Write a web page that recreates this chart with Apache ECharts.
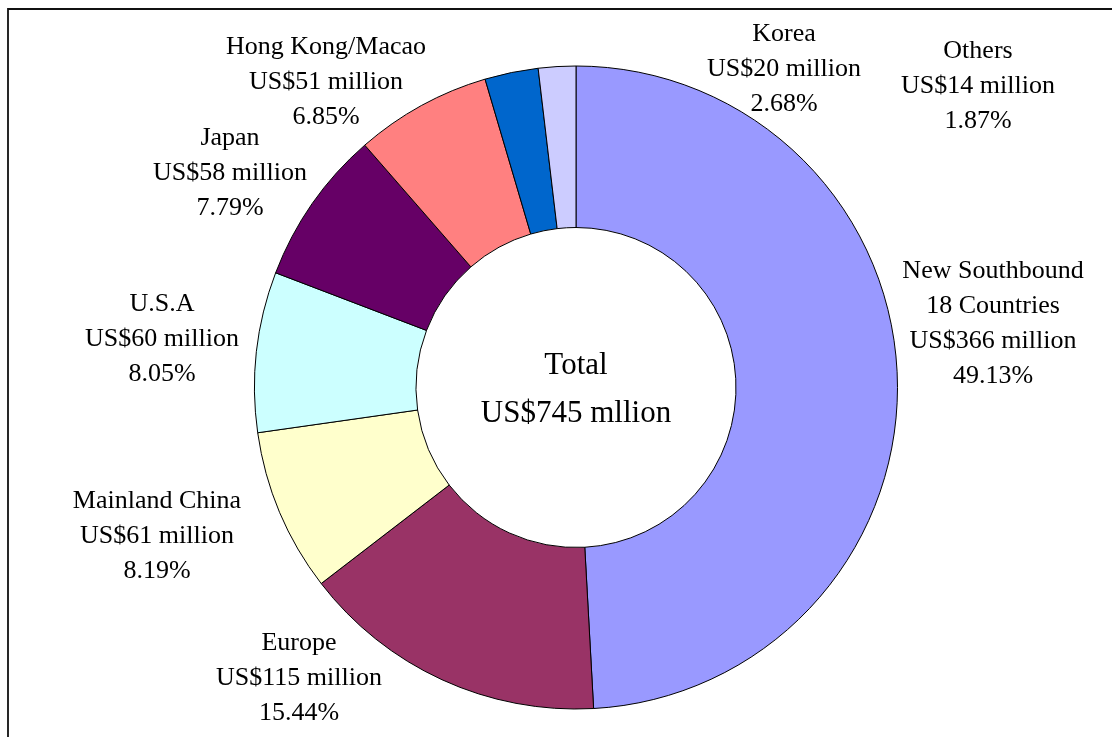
<!DOCTYPE html>
<html>
<head>
<meta charset="utf-8">
<script src="https://cdn.jsdelivr.net/npm/echarts@6/dist/echarts.min.js"></script>
<style>
html,body{margin:0;padding:0;background:#fff;}
#chart{width:1112px;height:737px;}
</style>
</head>
<body>
<div id="chart"></div>
<script>
// Data
var categories = ['New Southbound\n18 Countries', 'Europe', 'Mainland China', 'U.S.A', 'Japan', 'Hong Kong/Macao', 'Korea', 'Others'];
var valuesMillion = [366, 115, 61, 60, 58, 51, 20, 14];
var percentLabels = ['49.13%', '15.44%', '8.19%', '8.05%', '7.79%', '6.85%', '2.68%', '1.87%'];
var totalLabelPrefix = 'Total';

// Styling / layout (not data)
var colors = ['#9999FF', '#993366', '#FFFFCC', '#CCFFFF', '#660066', '#FF8080', '#0066CC', '#CCCCFF'];
var labelAnchors = [[993, 324], [299, 678], [157, 536], [162, 339], [230, 173.5], [326, 82], [784, 69.5], [978, 86]];

var total = valuesMillion.reduce(function (a, b) { return a + b; }, 0);

var seriesData = categories.map(function (c, i) {
  return { name: c, value: valuesMillion[i], itemStyle: { color: colors[i] } };
});

var chart = echarts.init(document.getElementById('chart'), null, { renderer: 'canvas' });
chart.setOption({
  animation: false,
  backgroundColor: '#ffffff',
  graphic: [
    {
      type: 'rect',
      shape: { x: 8, y: 9, width: 1300, height: 900 },
      style: { fill: 'none', stroke: '#111', lineWidth: 1.8 },
      silent: true,
      z: 0
    },
    {
      type: 'text',
      x: 576,
      y: 390,
      style: {
        text: totalLabelPrefix + '\nUS$' + total + ' mllion',
        fontFamily: 'Liberation Serif',
        fontSize: 31,
        lineHeight: 48,
        fill: '#000',
        align: 'center',
        verticalAlign: 'middle'
      },
      z: 10
    }
  ],
  series: [{
    type: 'pie',
    center: [576, 387.5],
    radius: [160, 321.5],
    startAngle: 90,
    clockwise: true,
    avoidLabelOverlap: false,
    silent: true,
    itemStyle: { borderColor: '#000', borderWidth: 1 },
    emphasis: { disabled: true },
    labelLine: { show: false },
    label: {
      show: true,
      position: 'outside',
      fontFamily: 'Liberation Serif',
      fontSize: 26,
      lineHeight: 35,
      color: '#000',
      align: 'center',
      formatter: function (p) {
        return p.name + '\nUS$' + p.value + ' million\n' + percentLabels[p.dataIndex];
      }
    },
    labelLayout: function (params) {
      var a = labelAnchors[params.dataIndex];
      return { x: a[0], y: a[1], align: 'center', verticalAlign: 'middle' };
    },
    data: seriesData
  }]
});
</script>
</body>
</html>
